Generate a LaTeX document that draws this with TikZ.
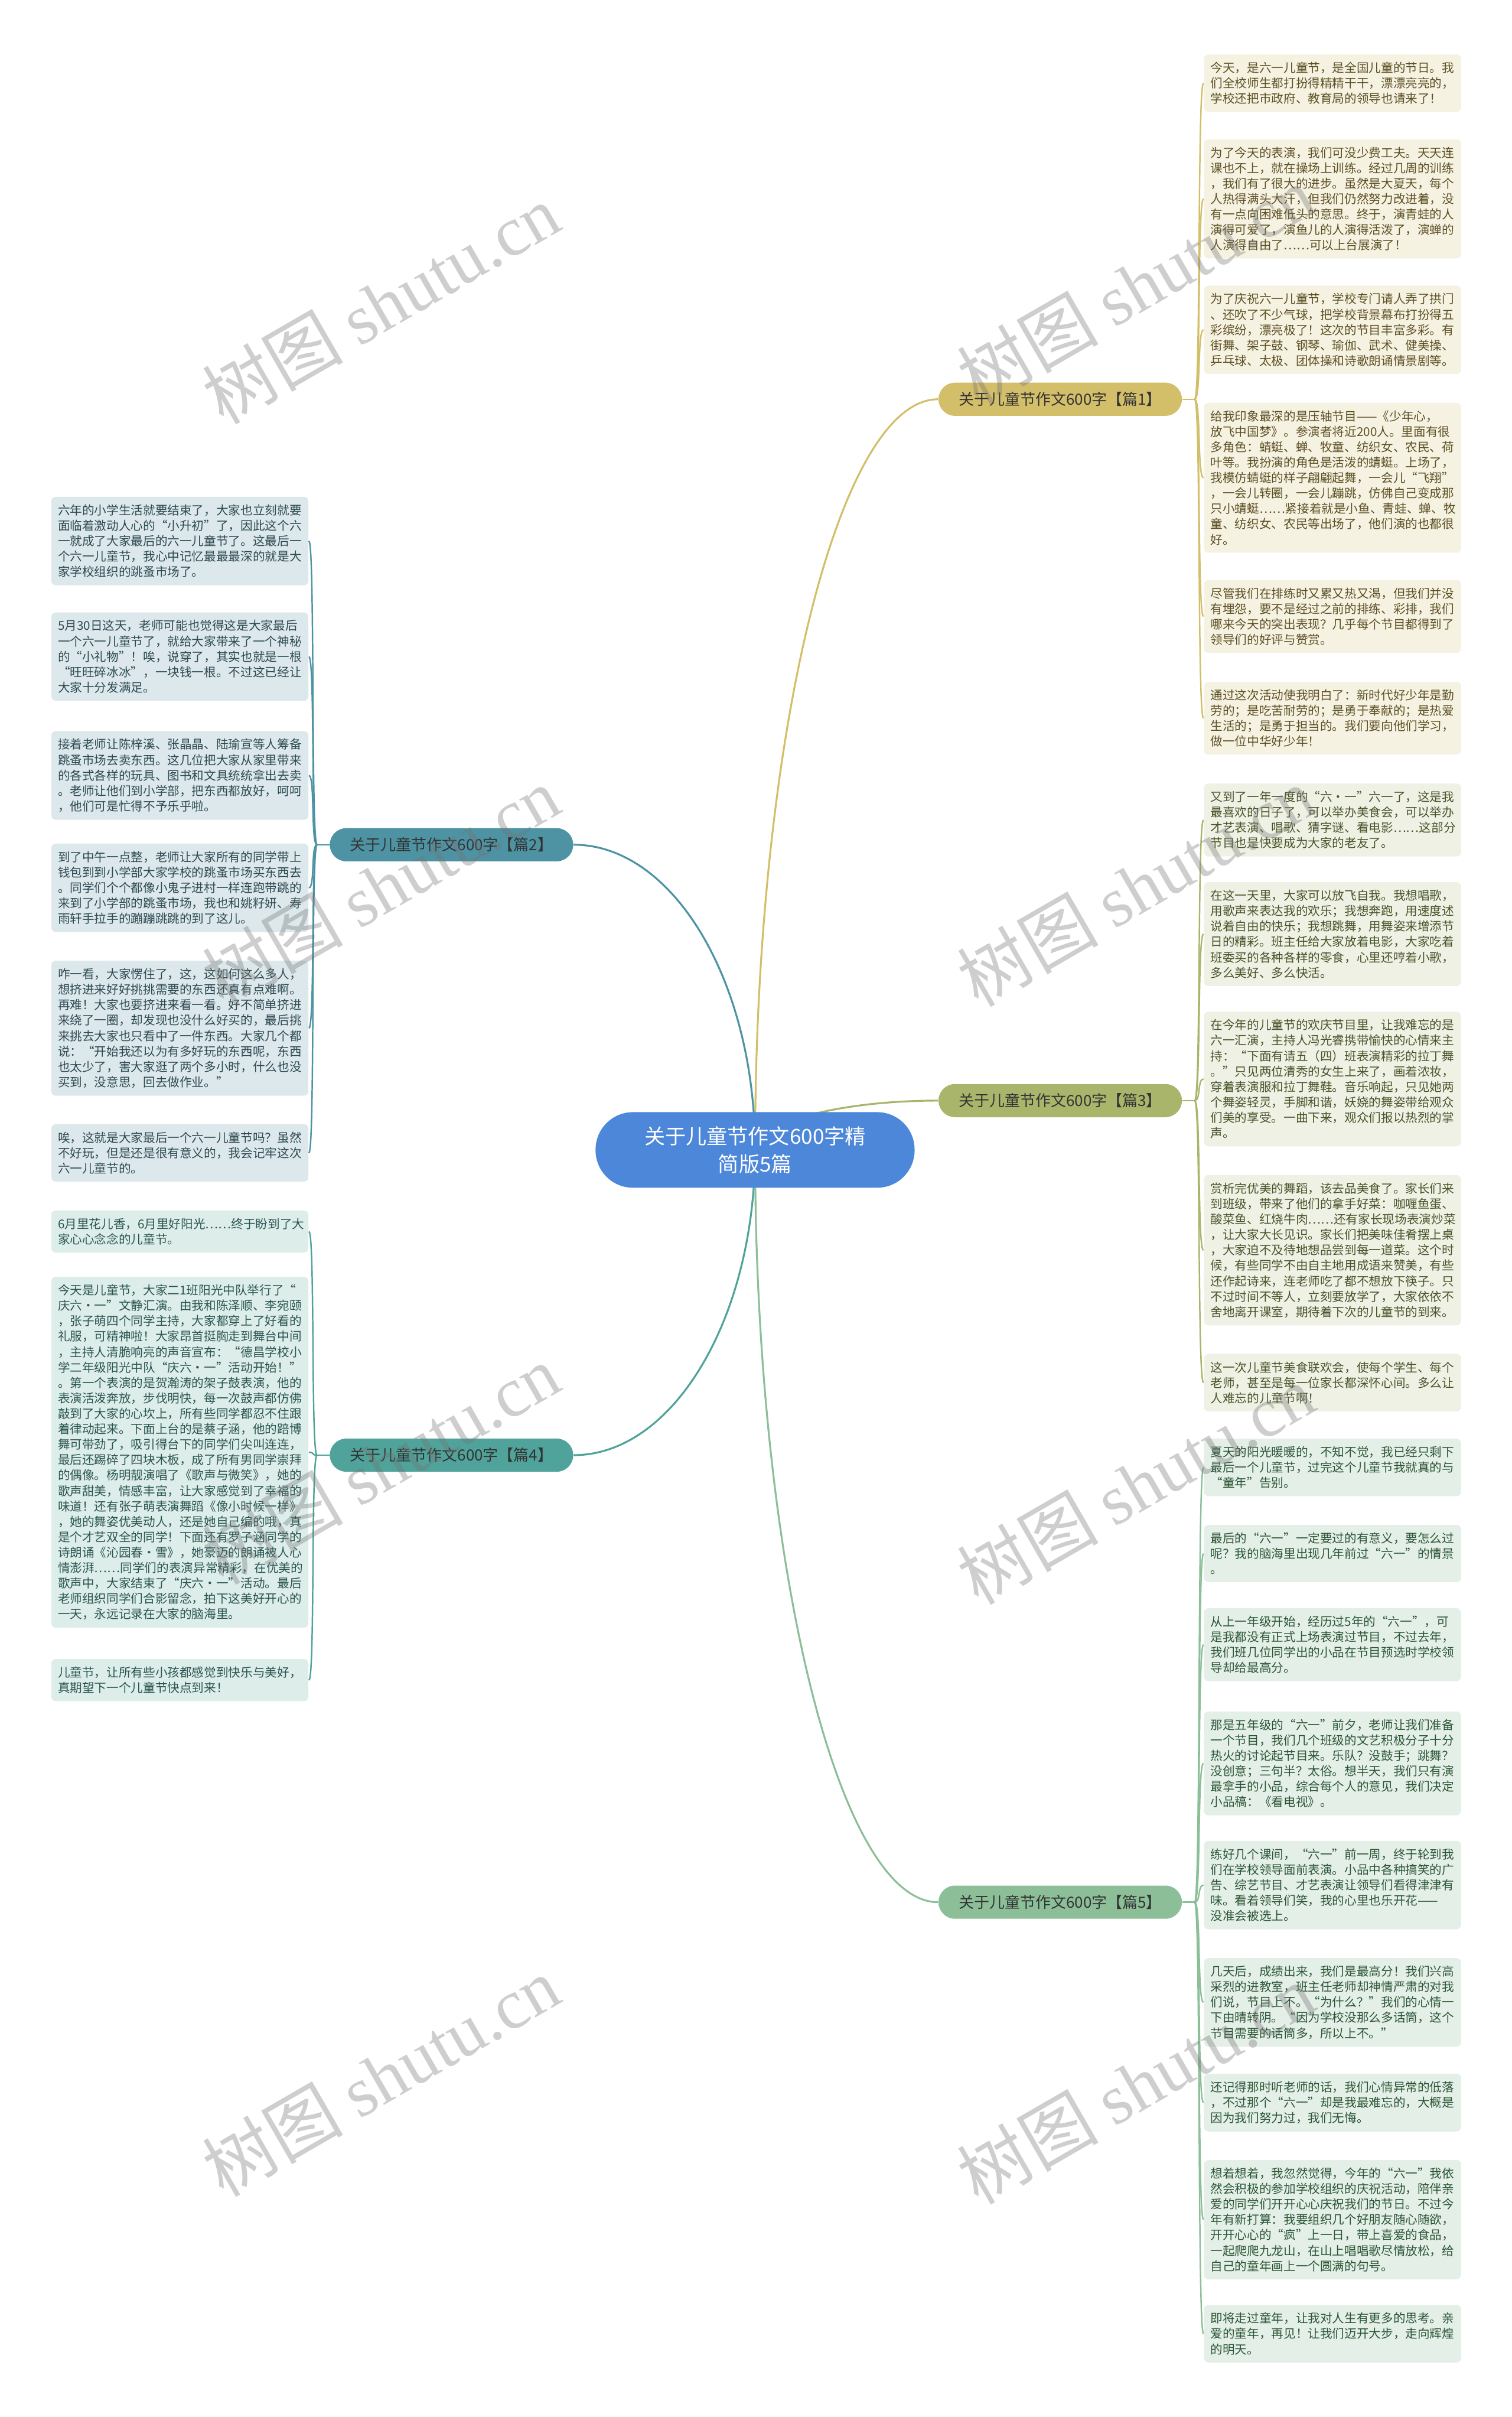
\documentclass[tikz,border=0pt]{standalone}
\usepackage{fontspec}
\setmainfont{Noto Sans CJK SC}
\newfontfamily\wmlatin{Liberation Serif}
\usepackage{tikz}
\pgfdeclarelayer{bg}
\pgfsetlayers{bg,main}
\definecolor{rootblue}{HTML}{4C87D9}
\definecolor{p1main}{HTML}{D3BE6A}
\definecolor{p1leaf}{HTML}{F6F2E2}
\definecolor{p1text}{HTML}{5C5024}
\definecolor{p2main}{HTML}{4E93A3}
\definecolor{p2leaf}{HTML}{DCE8EB}
\definecolor{p2text}{HTML}{2E4A52}
\definecolor{p3main}{HTML}{A9B56B}
\definecolor{p3leaf}{HTML}{EFF1E5}
\definecolor{p3text}{HTML}{48552A}
\definecolor{p4main}{HTML}{50A39A}
\definecolor{p4leaf}{HTML}{DCEDEA}
\definecolor{p4text}{HTML}{2B5551}
\definecolor{p5main}{HTML}{8CBF98}
\definecolor{p5leaf}{HTML}{E4EFE8}
\definecolor{p5text}{HTML}{2C5636}

\begin{document}
\begin{tikzpicture}[x=0.0261cm,y=-0.0261cm,
    root/.style={fill=rootblue,text=white,rounded corners=18pt,minimum width=153.7pt,minimum height=36.4pt,
      inner sep=0pt,align=center,font=\fontsize{10pt}{13.4pt}\selectfont},
    topic/.style={rounded corners=8pt,minimum width=117.3pt,minimum height=16pt,inner sep=0pt,
      text=black!80,font=\fontsize{7.4pt}{9pt}\selectfont},
    leaf/.style={anchor=north west,rounded corners=2.2pt,text width=117.5pt,align=left,
      inner xsep=3.2pt,inner ysep=3.7pt,font=\fontsize{5.87pt}{7.43pt}\selectfont},
    l1/.style={leaf,fill=p1leaf,text=p1text},
    l2/.style={leaf,fill=p2leaf,text=p2text},
    l3/.style={leaf,fill=p3leaf,text=p3text},
    l4/.style={leaf,fill=p4leaf,text=p4text},
    l5/.style={leaf,fill=p5leaf,text=p5text},
    wm/.style={rotate=30,text=black!55,opacity=0.35,font=\fontsize{34pt}{34pt}\selectfont},
    trunk/.style={line width=0.9pt},
    twig/.style={line width=0.7pt,out=0,in=180,distance=3pt},
    twigl/.style={line width=0.7pt,out=180,in=0,distance=3pt}]
\useasboundingbox (0,0) rectangle (981,1568);

\node[root] (N0) at (490,746) {关于儿童节作文600字精\\简版5篇};
\node[topic,fill=p1main] (N1) at (688,259) {关于儿童节作文600字【篇1】};
\node[topic,fill=p2main] (N2) at (293,548) {关于儿童节作文600字【篇2】};
\node[topic,fill=p3main] (N3) at (688,714) {关于儿童节作文600字【篇3】};
\node[topic,fill=p4main] (N4) at (293,944) {关于儿童节作文600字【篇4】};
\node[topic,fill=p5main] (N5) at (688,1234) {关于儿童节作文600字【篇5】};

\node[l1] (N11) at (781,35) {今天，是六一儿童节，是全国儿童的节日。我\\们全校师生都打扮得精精干干，漂漂亮亮的，\\学校还把市政府、教育局的领导也请来了！};
\node[l1] (N12) at (781,90) {为了今天的表演，我们可没少费工夫。天天连\\课也不上，就在操场上训练。经过几周的训练\\，我们有了很大的进步。虽然是大夏天，每个\\人热得满头大汗，但我们仍然努力改进着，没\\有一点向困难低头的意思。终于，演青蛙的人\\演得可爱了，演鱼儿的人演得活泼了，演蝉的\\人演得自由了……可以上台展演了！};
\node[l1] (N13) at (781,185) {为了庆祝六一儿童节，学校专门请人弄了拱门\\、还吹了不少气球，把学校背景幕布打扮得五\\彩缤纷，漂亮极了！这次的节目丰富多彩。有\\街舞、架子鼓、钢琴、瑜伽、武术、健美操、\\乒乓球、太极、团体操和诗歌朗诵情景剧等。};
\node[l1] (N14) at (781,261) {给我印象最深的是压轴节目——《少年心，\\放飞中国梦》。参演者将近200人。里面有很\\多角色：蜻蜓、蝉、牧童、纺织女、农民、荷\\叶等。我扮演的角色是活泼的蜻蜓。上场了，\\我模仿蜻蜓的样子翩翩起舞，一会儿“飞翔”\\，一会儿转圈，一会儿蹦跳，仿佛自己变成那\\只小蜻蜓……紧接着就是小鱼、青蛙、蝉、牧\\童、纺织女、农民等出场了，他们演的也都很\\好。};
\node[l1] (N15) at (781,376) {尽管我们在排练时又累又热又渴，但我们并没\\有埋怨，要不是经过之前的排练、彩排，我们\\哪来今天的突出表现？几乎每个节目都得到了\\领导们的好评与赞赏。};
\node[l1] (N16) at (781,442) {通过这次活动使我明白了：新时代好少年是勤\\劳的；是吃苦耐劳的；是勇于奉献的；是热爱\\生活的；是勇于担当的。我们要向他们学习，\\做一位中华好少年！};

\node[l3] (N31) at (781,508) {又到了一年一度的“六·一”六一了，这是我\\最喜欢的日子了，可以举办美食会，可以举办\\才艺表演、唱歌、猜字谜、看电影……这部分\\节目也是快要成为大家的老友了。};
\node[l3] (N32) at (781,572) {在这一天里，大家可以放飞自我。我想唱歌，\\用歌声来表达我的欢乐；我想奔跑，用速度述\\说着自由的快乐；我想跳舞，用舞姿来增添节\\日的精彩。班主任给大家放着电影，大家吃着\\班委买的各种各样的零食，心里还哼着小歌，\\多么美好、多么快活。};
\node[l3] (N33) at (781,656) {在今年的儿童节的欢庆节目里，让我难忘的是\\六一汇演，主持人冯光睿携带愉快的心情来主\\持：“下面有请五（四）班表演精彩的拉丁舞\\。”只见两位清秀的女生上来了，画着浓妆，\\穿着表演服和拉丁舞鞋。音乐响起，只见她两\\个舞姿轻灵，手脚和谐，妖娆的舞姿带给观众\\们美的享受。一曲下来，观众们报以热烈的掌\\声。};
\node[l3] (N34) at (781,762) {赏析完优美的舞蹈，该去品美食了。家长们来\\到班级，带来了他们的拿手好菜：咖喱鱼蛋、\\酸菜鱼、红烧牛肉……还有家长现场表演炒菜\\，让大家大长见识。家长们把美味佳肴摆上桌\\，大家迫不及待地想品尝到每一道菜。这个时\\候，有些同学不由自主地用成语来赞美，有些\\还作起诗来，连老师吃了都不想放下筷子。只\\不过时间不等人，立刻要放学了，大家依依不\\舍地离开课室，期待着下次的儿童节的到来。};
\node[l3] (N35) at (781,878) {这一次儿童节美食联欢会，使每个学生、每个\\老师，甚至是每一位家长都深怀心间。多么让\\人难忘的儿童节啊！};

\node[l5] (N51) at (781,933) {夏天的阳光暖暖的，不知不觉，我已经只剩下\\最后一个儿童节，过完这个儿童节我就真的与\\“童年”告别。};
\node[l5] (N52) at (781,989) {最后的“六一”一定要过的有意义，要怎么过\\呢？我的脑海里出现几年前过“六一”的情景\\。};
\node[l5] (N53) at (781,1043) {从上一年级开始，经历过5年的“六一”，可\\是我都没有正式上场表演过节目，不过去年，\\我们班几位同学出的小品在节目预选时学校领\\导却给最高分。};
\node[l5] (N54) at (781,1110) {那是五年级的“六一”前夕，老师让我们准备\\一个节目，我们几个班级的文艺积极分子十分\\热火的讨论起节目来。乐队？没鼓手；跳舞？\\没创意；三句半？太俗。想半天，我们只有演\\最拿手的小品，综合每个人的意见，我们决定\\小品稿：《看电视》。};
\node[l5] (N55) at (781,1194) {练好几个课间，“六一”前一周，终于轮到我\\们在学校领导面前表演。小品中各种搞笑的广\\告、综艺节目、才艺表演让领导们看得津津有\\味。看着领导们笑，我的心里也乐开花——\\没准会被选上。};
\node[l5] (N56) at (781,1270) {几天后，成绩出来，我们是最高分！我们兴高\\采烈的进教室，班主任老师却神情严肃的对我\\们说，节目上不。“为什么？”我们的心情一\\下由晴转阴。“因为学校没那么多话筒，这个\\节目需要的话筒多，所以上不。”};
\node[l5] (N57) at (781,1345) {还记得那时听老师的话，我们心情异常的低落\\，不过那个“六一”却是我最难忘的，大概是\\因为我们努力过，我们无悔。};
\node[l5] (N58) at (781,1401) {想着想着，我忽然觉得，今年的“六一”我依\\然会积极的参加学校组织的庆祝活动，陪伴亲\\爱的同学们开开心心庆祝我们的节日。不过今\\年有新打算：我要组织几个好朋友随心随欲，\\开开心心的“疯”上一日，带上喜爱的食品，\\一起爬爬九龙山，在山上唱唱歌尽情放松，给\\自己的童年画上一个圆满的句号。};
\node[l5] (N59) at (781,1495) {即将走过童年，让我对人生有更多的思考。亲\\爱的童年，再见！让我们迈开大步，走向辉煌\\的明天。};

\node[l2] (N21) at (33,322) {六年的小学生活就要结束了，大家也立刻就要\\面临着激动人心的“小升初”了，因此这个六\\一就成了大家最后的六一儿童节了。这最后一\\个六一儿童节，我心中记忆最最最深的就是大\\家学校组织的跳蚤市场了。};
\node[l2] (N22) at (33,397) {5月30日这天，老师可能也觉得这是大家最后\\一个六一儿童节了，就给大家带来了一个神秘\\的“小礼物”！唉，说穿了，其实也就是一根\\“旺旺碎冰冰”，一块钱一根。不过这已经让\\大家十分发满足。};
\node[l2] (N23) at (33,474) {接着老师让陈梓溪、张晶晶、陆瑜宣等人筹备\\跳蚤市场去卖东西。这几位把大家从家里带来\\的各式各样的玩具、图书和文具统统拿出去卖\\。老师让他们到小学部，把东西都放好，呵呵\\，他们可是忙得不予乐乎啦。};
\node[l2] (N24) at (33,547) {到了中午一点整，老师让大家所有的同学带上\\钱包到到小学部大家学校的跳蚤市场买东西去\\。同学们个个都像小鬼子进村一样连跑带跳的\\来到了小学部的跳蚤市场，我也和姚籽妍、寿\\雨轩手拉手的蹦蹦跳跳的到了这儿。};
\node[l2] (N25) at (33,623) {咋一看，大家愣住了，这，这如何这么多人，\\想挤进来好好挑挑需要的东西还真有点难啊。\\再难！大家也要挤进来看一看。好不简单挤进\\来绕了一圈，却发现也没什么好买的，最后挑\\来挑去大家也只看中了一件东西。大家几个都\\说：“开始我还以为有多好玩的东西呢，东西\\也太少了，害大家逛了两个多小时，什么也没\\买到，没意思，回去做作业。”};
\node[l2] (N26) at (33,729) {唉，这就是大家最后一个六一儿童节吗？虽然\\不好玩，但是还是很有意义的，我会记牢这次\\六一儿童节的。};

\node[l4] (N41) at (33,785) {6月里花儿香，6月里好阳光……终于盼到了大\\家心心念念的儿童节。};
\node[l4] (N42) at (33,828) {今天是儿童节，大家二1班阳光中队举行了“\\庆六·一”文静汇演。由我和陈泽顺、李宛颐\\，张子萌四个同学主持，大家都穿上了好看的\\礼服，可精神啦！大家昂首挺胸走到舞台中间\\，主持人清脆响亮的声音宣布：“德昌学校小\\学二年级阳光中队“庆六·一”活动开始！”\\。第一个表演的是贺瀚涛的架子鼓表演，他的\\表演活泼奔放，步伐明快，每一次鼓声都仿佛\\敲到了大家的心坎上，所有些同学都忍不住跟\\着律动起来。下面上台的是蔡子涵，他的踣博\\舞可带劲了，吸引得台下的同学们尖叫连连，\\最后还踢碎了四块木板，成了所有男同学崇拜\\的偶像。杨明靓演唱了《歌声与微笑》，她的\\歌声甜美，情感丰富，让大家感觉到了幸福的\\味道！还有张子萌表演舞蹈《像小时候一样》\\，她的舞姿优美动人，还是她自己编的哦，真\\是个才艺双全的同学！下面还有罗子涵同学的\\诗朗诵《沁园春·雪》，她豪迈的朗诵被人心\\情澎湃……同学们的表演异常精彩，在优美的\\歌声中，大家结束了“庆六·一”活动。最后\\老师组织同学们合影留念，拍下这美好开心的\\一天，永远记录在大家的脑海里。};
\node[l4] (N43) at (33,1076) {儿童节，让所有些小孩都感觉到快乐与美好，\\真期望下一个儿童节快点到来！};

\path (N1.east) ++(8,0) coordinate (J1);
\path (N2.west) ++(-8,0) coordinate (J2);
\path (N3.east) ++(8,0) coordinate (J3);
\path (N4.west) ++(-8,0) coordinate (J4);
\path (N5.east) ++(8,0) coordinate (J5);

\begin{pgfonlayer}{bg}
\path[trunk,draw=p1main] (N0.center) edge[out=90,in=180,out distance=199pt,in distance=48pt] (N1.west);
\path[trunk,draw=p2main] (N0.center) edge[out=90,in=0,out distance=81pt,in distance=48pt] (N2.east);
\path[trunk,draw=p3main] (N0.center) edge[out=90,in=180,out distance=13pt,in distance=48pt] (N3.west);
\path[trunk,draw=p4main] (N0.center) edge[out=-90,in=0,out distance=81pt,in distance=48pt] (N4.east);
\path[trunk,draw=p5main] (N0.center) edge[out=-90,in=180,out distance=199pt,in distance=48pt] (N5.west);
\end{pgfonlayer}

\path[draw=p1main,line width=0.7pt] (N1.east) edge (J1);
\path[draw=p1main] (J1) edge[twig] (N11.west) (J1) edge[twig] (N12.west) (J1) edge[twig] (N13.west);
\path[draw=p1main] (J1) edge[twig] (N14.west) (J1) edge[twig] (N15.west) (J1) edge[twig] (N16.west);
\path[draw=p2main,line width=0.7pt] (N2.west) edge (J2);
\path[draw=p2main] (J2) edge[twigl] (N21.east) (J2) edge[twigl] (N22.east) (J2) edge[twigl] (N23.east);
\path[draw=p2main] (J2) edge[twigl] (N24.east) (J2) edge[twigl] (N25.east) (J2) edge[twigl] (N26.east);
\path[draw=p3main,line width=0.7pt] (N3.east) edge (J3);
\path[draw=p3main] (J3) edge[twig] (N31.west) (J3) edge[twig] (N32.west) (J3) edge[twig] (N33.west);
\path[draw=p3main] (J3) edge[twig] (N34.west) (J3) edge[twig] (N35.west);
\path[draw=p4main,line width=0.7pt] (N4.west) edge (J4);
\path[draw=p4main] (J4) edge[twigl] (N41.east) (J4) edge[twigl] (N42.east) (J4) edge[twigl] (N43.east);
\path[draw=p5main,line width=0.7pt] (N5.east) edge (J5);
\path[draw=p5main] (J5) edge[twig] (N51.west) (J5) edge[twig] (N52.west) (J5) edge[twig] (N53.west);
\path[draw=p5main] (J5) edge[twig] (N54.west) (J5) edge[twig] (N55.west) (J5) edge[twig] (N56.west);
\path[draw=p5main] (J5) edge[twig] (N57.west) (J5) edge[twig] (N58.west) (J5) edge[twig] (N59.west);

\node[wm] (W1) at (247,197) {树图 {\wmlatin shutu.cn}};
\node[wm] (W2) at (247,575) {树图 {\wmlatin shutu.cn}};
\node[wm] (W3) at (247,950) {树图 {\wmlatin shutu.cn}};
\node[wm] (W4) at (247,1347) {树图 {\wmlatin shutu.cn}};
\node[wm] (W5) at (737,185) {树图 {\wmlatin shutu.cn}};
\node[wm] (W6) at (737,575) {树图 {\wmlatin shutu.cn}};
\node[wm] (W7) at (737,963) {树图 {\wmlatin shutu.cn}};
\node[wm] (W8) at (737,1352) {树图 {\wmlatin shutu.cn}};
\end{tikzpicture}
\end{document}
